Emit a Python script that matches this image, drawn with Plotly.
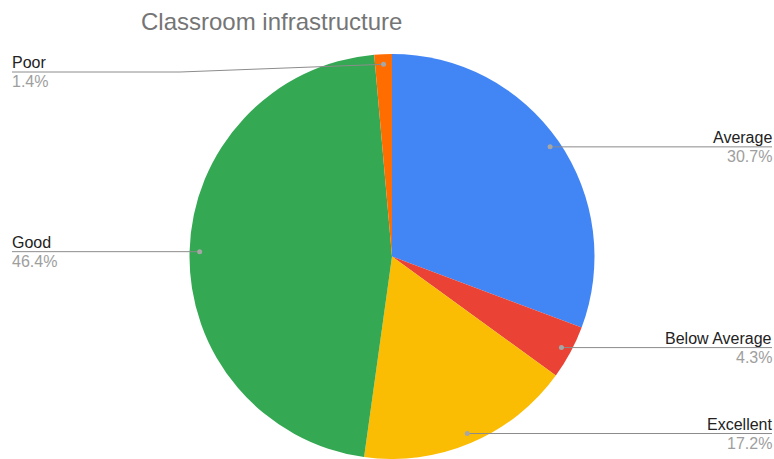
import math
import plotly.graph_objects as go

# ---- data ----
categories = ["Average", "Below Average", "Excellent", "Good", "Poor"]
values = [30.7, 4.3, 17.2, 46.4, 1.4]
colors = ["#4285F4", "#EA4335", "#FBBC04", "#34A853", "#FF6D01"]
title_text = "Classroom infrastructure"

# ---- layout geometry (pixels) ----
W, H = 774, 459
M_TOP, M_BOT = 54, 0
plot_h = H - M_TOP - M_BOT
cx_px = 392.0
radius = plot_h / 2.0
cy_px = M_TOP + radius
half_w = radius / W
dom_x = [cx_px / W - half_w, cx_px / W + half_w]


def px_to_paper(x, y):
    return x / W, (H - M_BOT - y) / plot_h


fig = go.Figure()
fig.add_trace(go.Pie(
    labels=categories, values=values, sort=False, direction="clockwise",
    rotation=0, marker=dict(colors=colors, line=dict(width=0)),
    textinfo="none", hoverinfo="label+percent", showlegend=False,
    domain=dict(x=dom_x, y=[0, 1]),
))

shapes = []
annotations = []
total = sum(values)
cum = 0.0
LEFT_X, RIGHT_X = 12, 772
line_col = "#8c8c8c"
dot_col = "#a6a6a6"
for name, v in zip(categories, values):
    mid = (cum + v / 2) / total * 2 * math.pi
    cum += v
    rr = radius * 0.95
    dx = cx_px + math.sin(mid) * rr
    dy = cy_px - math.cos(mid) * rr
    right = math.sin(mid) > 0
    ly = max(dy, 72)
    ex = RIGHT_X if right else LEFT_X
    pts = [(dx, dy)]
    if abs(ly - dy) > 1:
        pts.append((180, ly))
    pts.append((ex, ly))
    for (x0, y0), (x1, y1) in zip(pts[:-1], pts[1:]):
        a0 = px_to_paper(x0, y0)
        a1 = px_to_paper(x1, y1)
        shapes.append(dict(type="line", xref="paper", yref="paper",
                           x0=a0[0], y0=a0[1], x1=a1[0], y1=a1[1],
                           line=dict(color=line_col, width=1)))
    c0 = px_to_paper(dx - 2.5, dy + 2.5)
    c1 = px_to_paper(dx + 2.5, dy - 2.5)
    shapes.append(dict(type="circle", xref="paper", yref="paper",
                       x0=c0[0], y0=c0[1], x1=c1[0], y1=c1[1],
                       fillcolor=dot_col, line=dict(width=0)))
    ax, ay = px_to_paper(ex, ly)
    anchor = "right" if right else "left"
    xs = 2 if right else -2
    annotations.append(dict(x=ax, y=ay, xref="paper", yref="paper",
                            text=name, showarrow=False, xanchor=anchor,
                            yanchor="bottom", yshift=-1, xshift=xs, align=anchor,
                            font=dict(size=16, color="#222222",
                                      family="Arial, Liberation Sans")))
    annotations.append(dict(x=ax, y=ay, xref="paper", yref="paper",
                            text=f"{v}%", showarrow=False, xanchor=anchor,
                            yanchor="top", yshift=1, xshift=xs, align=anchor,
                            font=dict(size=16, color="#9e9e9e",
                                      family="Arial, Liberation Sans")))

tx, ty = px_to_paper(139, 21)
annotations.append(dict(x=tx, y=ty, xref="paper", yref="paper",
                        text=title_text, showarrow=False, xanchor="left",
                        yanchor="middle",
                        font=dict(size=24, color="#757575",
                                  family="Arial, Liberation Sans")))

fig.update_layout(
    width=W, height=H, autosize=False,
    margin=dict(l=0, r=0, t=M_TOP, b=M_BOT),
    paper_bgcolor="white", plot_bgcolor="white",
    shapes=shapes, annotations=annotations,
)

fig.write_html("out.html", config={"displayModeBar": False},
               post_script="document.body.style.margin='0';document.body.style.overflow='hidden';")
